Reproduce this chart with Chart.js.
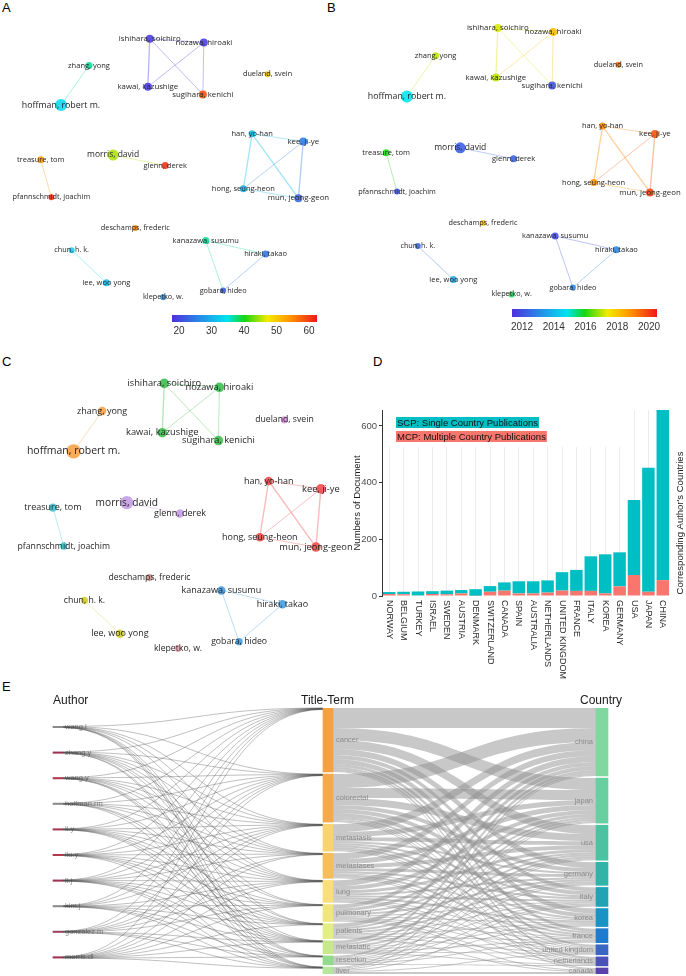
<!DOCTYPE html>
<html>
<head>
<meta charset="utf-8">
<script src="https://cdn.jsdelivr.net/npm/chart.js@4.4.0/dist/chart.umd.min.js"></script>
<style>
  body { margin: 0; background: #fff; width: 686px; height: 976px; position: relative; overflow: hidden; }
  canvas { position: absolute; }
  .tag { position: absolute; font: 13px "Liberation Sans", Arial, sans-serif; color: #000; }
</style>
</head>
<body>
<div class="tag" style="left:2px;top:0px">A</div>
<div class="tag" style="left:327px;top:0px">B</div>
<div class="tag" style="left:2px;top:354px">C</div>
<div class="tag" style="left:373px;top:354px">D</div>
<div class="tag" style="left:2px;top:679px">E</div>

<canvas id="netA" width="343" height="310" style="left:0;top:0"></canvas>
<canvas id="cbA" width="170" height="42" style="left:160px;top:308px"></canvas>
<canvas id="netB" width="343" height="310" style="left:343px;top:0"></canvas>
<canvas id="cbB" width="170" height="42" style="left:500px;top:302px"></canvas>
<canvas id="netC" width="380" height="330" style="left:0;top:340px"></canvas>
<canvas id="barD" width="343" height="360" style="left:343px;top:340px"></canvas>
<canvas id="sankeyE" width="686" height="300" style="left:0;top:676px"></canvas>

<script>
const SANS = '"Liberation Sans", Arial, sans-serif'
const VOS = '"Open Sans", sans-serif'

// co-authorship map (panels A, B, C) - map coordinates
const AUTHORS = ['ishihara, soichiro','nozawa, hiroaki','zhang, yong','dueland, svein','kawai, kazushige',
  'sugihara, kenichi','hoffman, robert m.','han, yo-han','kee, ji-ye','morris, david','treasure, tom',
  'glenn, derek','hong, seung-heon','pfannschmidt, joachim','mun, jeong-geon','deschamps, frederic',
  'kanazawa, susumu','chun, h. k.','hiraki, takao','lee, woo yong','gobara, hideo','klepetko, w.']
const MAP_X = [-0.23,0.33,-0.86,0.99,-0.25,0.32,-1.15,0.83,1.36,-0.61,-1.36,-0.07,0.74,-1.25,1.31,-0.38,0.35,-1.04,0.97,-0.68,0.53,-0.09]
const MAP_Y = [1.36,1.32,1.08,0.99,0.86,0.78,0.67,0.37,0.29,0.15,0.10,0.04,-0.20,-0.29,-0.30,-0.61,-0.74,-0.84,-0.88,-1.18,-1.26,-1.33]
const DOCS = [5,5,4,3,5,5,9,4,5,8,4,4,4,3,5,3,4,3,4,4,3,3]
const AVG_CITATIONS = [19,19,37,51,19,59,34,31,25,45,54,61,30,61,23,55,37,33,24,31,22,27]
const AVG_YEAR = [2017.2,2018.2,2017.0,2019.4,2017.0,2012.0,2014.8,2019.0,2019.7,2012.3,2016.0,2012.3,2018.8,2012.2,2019.9,2018.0,2012.0,2012.4,2013.0,2013.7,2013.0,2015.6]
const CLUSTER = [1,1,6,9,1,1,6,0,0,4,5,4,0,5,0,7,2,3,2,3,2,8]
const LINK_FROM = [0,0,0,1,1,2,9,10,7,7,7,8,8,12,17,16,16,18]
const LINK_TO   = [1,4,5,4,5,6,11,13,8,12,14,12,14,14,19,18,20,20]
const LINK_STRENGTH = [1,1.5,1,1,1,1,1,1,1,1.5,1.5,1,1.5,1,1,1,1,1]

// colour bars
const CITATION_RANGE = [17.85, 62.46]
const CITATION_TICKS = 10
const YEAR_RANGE = [2011.37, 2020.5]
const YEAR_TICKS = 2

// panel D: corresponding author's countries
const DOC_COUNTRIES = ['NORWAY','BELGIUM','TURKEY','ISRAEL','SWEDEN','AUSTRIA','DENMARK','SWITZERLAND','CANADA','SPAIN',
  'AUSTRALIA','NETHERLANDS','UNITED KINGDOM','FRANCE','ITALY','KOREA','GERMANY','USA','JAPAN','CHINA']
const SCP = [7,9,14,10,13,12,23,20,29,43,43,43,65,74,122,138,120,265,437,600]
const MCP = [7,6,2,7,6,9,1,15,19,9,9,12,19,18,18,9,34,74,15,56]
const DOC_TICKS = [0,200,400,600]

// panel E: three-field plot
const SK_AUTHORS = ['wang.l','zhang.y','wang.y','hoffman.rm','li.y','liu.y','li.j','kim.j','gonzalez.m','morris.dl']
const SK_TERMS = ['cancer','colorectal','metastasis','metastases','lung','pulmonary','patients','metastatic','resection','liver']
const SK_COUNTRIES = ['china','japan','usa','germany','italy','korea','france','united kingdom','netherlands','canada']
const AUTHOR_TERM = [
  [1,1,1,1,1,0,1,1,1,1],
  [1,1,1,1,1,1,1,0,1,1],
  [1,1,1,1,1,1,0,1,1,1],
  [1,1,1,1,1,0,1,1,0,1],
  [1,1,1,1,1,1,1,1,1,0],
  [1,1,1,1,1,1,1,1,0,1],
  [1,1,1,1,1,1,1,1,1,1],
  [1,1,1,0,1,1,1,1,1,1],
  [1,1,1,1,1,1,0,1,1,1],
  [1,1,1,1,1,1,1,1,1,1]
]
const TERM_COUNTRY = [
  [20,12,9,6,4,5,3,2,2,1],
  [14,10,7,4,4,4,2,1,1,1],
  [8,5,4,2,2,2,2,1,1,0],
  [6,5,4,3,2,1,2,1,1,0],
  [6,4,3,2,2,2,1,1,1,0],
  [4,3,2,2,1,1,1,1,1,1],
  [4,2,2,2,1,1,1,1,0,1],
  [3,2,2,1,1,1,1,1,1,0],
  [2,1,1,1,1,1,1,0,1,0],
  [1,1,1,0,1,0,0,1,0,2]
]

// ---- styles ----
const RAINBOW = [[0,[78,48,222]],[0.38,[0,228,240]],[0.5,[20,214,20]],[0.66,[245,235,0]],[0.82,[255,145,0]],[1,[240,25,25]]]
const CLUSTER_COLORS = ['#ee4a4a','#3dbd4c','#3f9be0','#d0cd2e','#c39be6','#3dc5d6','#f5a043','#cc8c84','#f2a8b8','#d990e0']
const TERM_COLORS = ['#f5a142','#f6a94a','#f8d36e','#f6bd58','#f8df7c','#f1e67e','#e3ee84','#c8e88c','#92da8c','#b4e69c']
const COUNTRY_COLORS = ['#80d8a0','#68cfa0','#4cc3a0','#30b4a8','#20a4b4','#1894c4','#1e7cd0','#3a66c4','#4a52b8','#5a42ac']
const AUTHOR_COLORS = ['#8a8a8a','#a03050','#b03848','#8a8a8a','#a03850','#b03848','#a03050','#8a8a8a','#a04060','#a03050']

function rainbow(t){
  t = Math.max(0, Math.min(1, t))
  for (let i = 1; i < RAINBOW.length; i++){
    if (t <= RAINBOW[i][0]){
      const [t0, c0] = RAINBOW[i-1], [t1, c1] = RAINBOW[i]
      const f = (t - t0) / (t1 - t0)
      return c0.map((v, k) => Math.round(v + (c1[k] - v) * f))
    }
  }
  return RAINBOW[RAINBOW.length-1][1]
}
function rgba(c, a){ return `rgba(${c[0]},${c[1]},${c[2]},${a})` }
function hex(h){ return [1,3,5].map(i => parseInt(h.substr(i,2),16)) }

const base = { responsive:false, animation:false, devicePixelRatio:1, events:[] }

// ---- network panels ----
function nodeLabels(scale){
  return {
    id:'nodeLabels',
    afterDatasetsDraw(chart){
      const ctx = chart.ctx
      const meta = chart.getDatasetMeta(0)
      ctx.save()
      ctx.textAlign = 'center'
      ctx.textBaseline = 'middle'
      ctx.fillStyle = '#262626'
      meta.data.forEach((pt, i) => {
        ctx.font = `${((6.5 + DOCS[i]*0.25)*scale).toFixed(1)}px ${VOS}`
        ctx.fillText(AUTHORS[i], pt.x, pt.y)
      })
      ctx.restore()
    }
  }
}

function netChart(id, view, colorOf, scale){
  const datasets = [{
    data: MAP_X.map((x, i) => ({x, y: MAP_Y[i]})),
    pointRadius: DOCS.map(d => (1.5 + d*0.5)*scale),
    pointBackgroundColor: AUTHORS.map((_, i) => colorOf(i, 0.88)),
    pointBorderColor: 'rgba(0,0,0,0)',
    pointBorderWidth: 0
  }]
  LINK_FROM.forEach((a, k) => {
    const b = LINK_TO[k]
    datasets.push({
      data: [{x:MAP_X[a], y:MAP_Y[a]}, {x:MAP_X[b], y:MAP_Y[b]}],
      showLine: true, pointRadius: 0,
      borderColor: colorOf(a, 0.38), borderWidth: LINK_STRENGTH[k] * 0.9
    })
  })
  return new Chart(document.getElementById(id), {
    type: 'scatter',
    data: { datasets },
    options: { ...base,
      layout: { padding: 0 },
      plugins: { legend:{display:false}, tooltip:{enabled:false} },
      scales: {
        x: { type:'linear', display:false, min:view.x[0], max:view.x[1] },
        y: { type:'linear', display:false, min:view.y[0], max:view.y[1] }
      }
    },
    plugins: [nodeLabels(scale)]
  })
}

const byCitation = (i, a) => rgba(rainbow((AVG_CITATIONS[i]-CITATION_RANGE[0])/(CITATION_RANGE[1]-CITATION_RANGE[0])), a)
const byYear = (i, a) => rgba(rainbow((AVG_YEAR[i]-YEAR_RANGE[0])/(YEAR_RANGE[1]-YEAR_RANGE[0])), a)
const byCluster = (i, a) => rgba(hex(CLUSTER_COLORS[CLUSTER[i]]), a)

netChart('netA', {x:[-1.72, 1.71], y:[-1.40, 1.70]}, byCitation, 1)
netChart('netB', {x:[-1.736, 1.614], y:[-1.427, 1.583]}, byYear, 1)
netChart('netC', {x:[-1.824, 1.887], y:[-1.474, 1.727]}, byCluster, 1.2)

function colorBar(id, range, step, pad){
  return new Chart(document.getElementById(id), {
    type: 'scatter',
    data: { datasets: [] },
    options: { ...base,
      layout: { padding: { left:12, right:13, top:pad.top, bottom:0 } },
      plugins: { legend:{display:false}, tooltip:{enabled:false} },
      scales: {
        x: { type:'linear', min:range[0], max:range[1],
          grid:{display:false, drawTicks:false}, border:{display:false},
          ticks:{ stepSize:step, includeBounds:false, autoSkip:false, maxRotation:0, padding:pad.tick,
            color:'#333', font:{size:10, family:SANS}, callback: v => String(v) },
          afterFit(s){ s.height = pad.axis } },
        y: { display:false }
      }
    },
    plugins: [{
      id:'cbFill',
      beforeDatasetsDraw(chart){
        const {ctx, chartArea:a} = chart
        const g = ctx.createLinearGradient(a.left, 0, a.right, 0)
        RAINBOW.forEach(([t, c]) => g.addColorStop(t, `rgb(${c})`))
        ctx.fillStyle = g
        ctx.fillRect(a.left, a.top, a.right - a.left, a.bottom - a.top)
      }
    }]
  })
}
colorBar('cbA', CITATION_RANGE, CITATION_TICKS, {top:7, axis:28, tick:3})
colorBar('cbB', YEAR_RANGE, YEAR_TICKS, {top:7, axis:27, tick:4})

// ---- panel D ----
const barExtras = {
  id:'barExtras',
  afterDraw(chart){
    const {ctx, scales:{x}, chartArea:a} = chart
    ctx.save()
    ctx.font = `9px ${SANS}`
    ctx.fillStyle = '#2a2a2a'
    ctx.textAlign = 'left'
    ctx.textBaseline = 'middle'
    DOC_COUNTRIES.forEach((c, i) => {
      ctx.save()
      ctx.translate(x.getPixelForValue(i), a.bottom + 4)
      ctx.rotate(Math.PI/2)
      ctx.fillText(c, 0, 0)
      ctx.restore()
    })
    // legend
    ctx.fillStyle = '#fff'
    ctx.fillRect(a.left + 2, a.top, 245, 37)
    ctx.font = `9.5px ${SANS}`
    const items = [['SCP: Single Country Publications', '#00BFC4', 77], ['MCP: Multiple Country Publications', '#F8766D', 91]]
    items.forEach(([t, col, top]) => {
      const w = ctx.measureText(t).width + 2
      ctx.fillStyle = col
      ctx.fillRect(53, top, w, 11)
      ctx.fillStyle = '#111'
      ctx.fillText(t, 54, top + 6)
    })
    // right title
    ctx.translate(337, 183)
    ctx.rotate(-Math.PI/2)
    ctx.textAlign = 'center'
    ctx.fillStyle = '#1a1a1a'
    ctx.fillText("Corresponding Author's Countries", 0, 0)
    ctx.restore()
  }
}

new Chart(document.getElementById('barD'), {
  type: 'bar',
  data: {
    labels: DOC_COUNTRIES,
    datasets: [
      { label:'MCP', data:MCP, backgroundColor:'#F8766D', categoryPercentage:0.87, barPercentage:1 },
      { label:'SCP', data:SCP, backgroundColor:'#00BFC4', categoryPercentage:0.87, barPercentage:1 }
    ]
  },
  options: { ...base,
    layout: { padding: { top:70, right:16, left:0, bottom:0 } },
    plugins: { legend:{display:false}, tooltip:{enabled:false} },
    scales: {
      x: { stacked:true,
        grid:{ color:'#ececec', offset:false, drawTicks:false },
        border:{ display:false },
        ticks:{ display:false },
        afterFit(s){ s.height = 104 } },
      y: { stacked:true, min:0, max:656,
        afterBuildTicks(s){ s.ticks = DOC_TICKS.map(v => ({value:v})) },
        ticks:{ color:'#4d4d4d', font:{size:9.5, family:SANS}, padding:2 },
        grid:{ drawOnChartArea:false, tickLength:3, color:'#333' },
        border:{ color:'#333', width:1 },
        title:{ display:true, text:'Numbers of Document', color:'#1a1a1a', font:{size:9.5, family:SANS}, padding:{top:9, bottom:0} },
        afterFit(s){ s.width = 39 } }
    }
  },
  plugins: [barExtras]
})

// ---- panel E: sankey ----
const COL_X = [53, 323, 596]
const NODE_W = [10, 10, 12]
const NODE_GAP = 2.11
const AUTHOR_FIRST = 19, AUTHOR_STEP = 25.6
const AUTHOR_LINK = 0.15

const termTotal = TERM_COUNTRY.map(r => r.reduce((s, v) => s + v, 0))
const countryTotal = SK_COUNTRIES.map((_, c) => TERM_COUNTRY.reduce((s, r) => s + r[c], 0))
function stack(tot){ let y = 0; return tot.map(v => { const t = y; y += v + NODE_GAP; return t }) }
const termTop = stack(termTotal)
const countryTop = stack(countryTotal)
const authorMid = SK_AUTHORS.map((_, i) => AUTHOR_FIRST + i*AUTHOR_STEP)
const authorTotal = AUTHOR_TERM.map(r => r.reduce((s, v) => s + v, 0) * AUTHOR_LINK)

function band(ctx, x0, x1, a0, a1, b0, b1){
  const xm = (x0 + x1) / 2
  ctx.beginPath()
  ctx.moveTo(x0, a0)
  ctx.bezierCurveTo(xm, a0, xm, b0, x1, b0)
  ctx.lineTo(x1, b1)
  ctx.bezierCurveTo(xm, b1, xm, a1, x0, a1)
  ctx.closePath()
  ctx.fill()
}

const sankeyDraw = {
  id:'sankeyDraw',
  beforeDatasetsDraw(chart){
    const {ctx, scales:{x, y}} = chart
    ctx.save()
    // author labels
    ctx.font = `7.5px ${SANS}`
    ctx.fillStyle = '#909090'
    ctx.textAlign = 'left'
    ctx.textBaseline = 'middle'
    SK_AUTHORS.forEach((a, i) => ctx.fillText(a, x.getPixelForValue(COL_X[0] + NODE_W[0] + 2), y.getPixelForValue(authorMid[i])))

    // term -> country bands
    const so = termTop.slice(), dof = countryTop.slice()
    const tx0 = x.getPixelForValue(COL_X[1] + NODE_W[1]), tx1 = x.getPixelForValue(COL_X[2])
    ctx.fillStyle = 'rgba(145,145,145,0.5)'
    TERM_COUNTRY.forEach((row, t) => row.forEach((v, c) => {
      if (!v) return
      band(ctx, tx0, tx1,
        y.getPixelForValue(so[t]), y.getPixelForValue(so[t] + v),
        y.getPixelForValue(dof[c]), y.getPixelForValue(dof[c] + v))
      so[t] += v; dof[c] += v
    }))

    // author -> term lines
    const ao = authorMid.map((m, i) => m - authorTotal[i]/2)
    const to = termTop.slice()
    const ax0 = x.getPixelForValue(COL_X[0] + NODE_W[0]), ax1 = x.getPixelForValue(COL_X[1])
    const xm = (ax0 + ax1) / 2
    ctx.strokeStyle = 'rgba(60,60,60,0.55)'
    ctx.lineWidth = 0.6
    AUTHOR_TERM.forEach((row, a) => row.forEach((v, t) => {
      if (!v) return
      const ya = y.getPixelForValue(ao[a] + AUTHOR_LINK/2), yb = y.getPixelForValue(to[t] + AUTHOR_LINK/2)
      ao[a] += AUTHOR_LINK; to[t] += AUTHOR_LINK
      ctx.beginPath()
      ctx.moveTo(ax0, ya)
      ctx.bezierCurveTo(xm, ya, xm, yb, ax1, yb)
      ctx.stroke()
    }))
    ctx.restore()
  },
  afterDatasetsDraw(chart){
    const {ctx, scales:{x, y}} = chart
    ctx.save()
    ctx.font = `7.5px ${SANS}`
    ctx.fillStyle = '#8c8c8c'
    ctx.textBaseline = 'middle'
    ctx.textAlign = 'left'
    SK_TERMS.forEach((t, i) => ctx.fillText(t, x.getPixelForValue(COL_X[1] + NODE_W[1] + 3), y.getPixelForValue(termTop[i] + termTotal[i]/2)))
    ctx.textAlign = 'right'
    SK_COUNTRIES.forEach((c, i) => ctx.fillText(c, x.getPixelForValue(COL_X[2] - 3), y.getPixelForValue(countryTop[i] + countryTotal[i]/2)))
    ctx.font = `12px ${SANS}`
    ctx.fillStyle = '#1a1a1a'
    ctx.textAlign = 'left'
    ctx.textBaseline = 'alphabetic'
    ctx.fillText('Author', x.getPixelForValue(COL_X[0]), 28)
    ctx.fillText('Title-Term', x.getPixelForValue(301), 28)
    ctx.fillText('Country', x.getPixelForValue(580), 28)
    ctx.restore()
  }
}

new Chart(document.getElementById('sankeyE'), {
  type: 'bar',
  data: {
    datasets: [
      { data: SK_AUTHORS.map((_, i) => ({x: COL_X[0] + NODE_W[0]/2, y: [authorMid[i] - 0.7, authorMid[i] + 0.7]})),
        backgroundColor: AUTHOR_COLORS, barThickness: NODE_W[0], grouped:false },
      { data: SK_TERMS.map((_, i) => ({x: COL_X[1] + NODE_W[1]/2, y: [termTop[i], termTop[i] + termTotal[i]]})),
        backgroundColor: TERM_COLORS, barThickness: NODE_W[1], grouped:false },
      { data: SK_COUNTRIES.map((_, i) => ({x: COL_X[2] + NODE_W[2]/2, y: [countryTop[i], countryTop[i] + countryTotal[i]]})),
        backgroundColor: COUNTRY_COLORS, barThickness: NODE_W[2], grouped:false }
    ]
  },
  options: { ...base,
    layout: { padding: { top:32, bottom:2, left:0, right:0 } },
    plugins: { legend:{display:false}, tooltip:{enabled:false} },
    scales: {
      x: { type:'linear', min:0, max:686, display:false, offset:false },
      y: { type:'linear', min:0, max:266, reverse:true, display:false }
    }
  },
  plugins: [sankeyDraw]
})
</script>
</body>
</html>
